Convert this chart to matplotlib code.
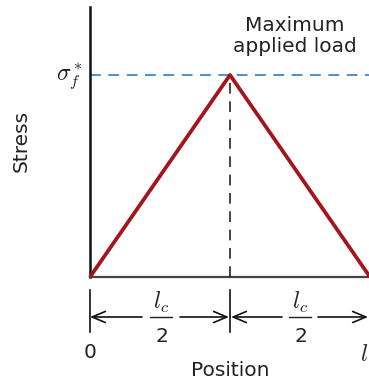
import matplotlib
matplotlib.use("Agg")
import matplotlib.pyplot as plt

# Data (position in units of l_c, stress normalised to sigma_f*)
position = [0.0, 0.5, 1.0]
stress = [0.0, 1.0, 0.0]
peak_level = 1.0
x_labels = ["0", "$l$"]
y_label_sym = r"$\sigma_f^*$"

plt.rcParams['mathtext.fontset'] = 'cm'
plt.rcParams['font.family'] = ['DejaVu Sans']

W, H = 369, 383
fig = plt.figure(figsize=(W / 100, H / 100), dpi=100)
# axes spans px x 90..370, y 7..277 (from top)
ax = fig.add_axes([90 / W, (H - 277) / H, 280 / W, 270 / H])
ax.set_xlim(0, 1.0)
ax.set_ylim(0, 270 / 202)
ax.set_xticks([])
ax.set_yticks([])
for s in ['top', 'right']:
    ax.spines[s].set_visible(False)
ax.spines['left'].set_color('#111111')
ax.spines['left'].set_linewidth(1.8)
ax.spines['bottom'].set_color('#444444')
ax.spines['bottom'].set_linewidth(1.6)
ax.patch.set_alpha(0)

# stress curve
ax.plot(position, stress, color='#a3151b', lw=2.7, solid_capstyle='butt', clip_on=False, zorder=4)
# max applied load line
ax.axhline(peak_level, color='#2f7dc2', lw=1.2, dashes=(6.5, 4.5), zorder=2)
# vertical dashed line at peak
ax.plot([position[1], position[1]], [0, stress[1]], color='#111111', lw=1.1,
        dashes=(7, 5), zorder=3)

def px(x):
    return (x - 90) / 280

def py(y):
    return (277 - y) / 202

# text labels
ax.text(px(295), py(36), "Maximum\napplied load", ha='center', va='center',
        fontsize=14.5, color='#222222', linespacing=1.15)
ax.text(px(70), py(76), y_label_sym, ha='center', va='center', fontsize=17, color='#222222')
ax.text(px(21), py(141), "Stress", rotation=90, ha='center', va='center',
        fontsize=14.5, color='#222222')
ax.text(px(230), py(370), "Position", ha='center', va='center', fontsize=14.5, color='#222222')
ax.text(position[0], py(352), x_labels[0], ha='center', va='center', fontsize=14.5, color='#222222')
ax.text(px(368), py(354), x_labels[1], ha='right', va='center', fontsize=17,
        color='#222222', clip_on=False)

# dimension ticks
for xp in [position[0], position[1]]:
    ax.plot([xp, xp], [py(290), py(332)], color='#111111', lw=1.2, clip_on=False)

ya = py(317)
ap = dict(arrowstyle='->,head_length=0.95,head_width=0.4', color='#111111', lw=1.2,
          shrinkA=0, shrinkB=0)
segments = [(142, 90), (180, 229), (282, 231), (318, 368)]
for a, b in segments:
    ax.annotate("", xy=(px(b), ya), xytext=(px(a), ya), arrowprops=ap,
                annotation_clip=False)

# fractions l_c / 2
for cx in [161, 300]:
    ax.text(px(cx), py(302), r"$l_c$", ha='center', va='center', fontsize=17, color='#222222')
    ax.plot([px(cx - 11), px(cx + 11)], [ya, ya], color='#222222', lw=1.0, clip_on=False)
    ax.text(px(cx + 1), py(337), "2", ha='center', va='center', fontsize=14.5, color='#222222')

fig.savefig("out.png", dpi=100)
